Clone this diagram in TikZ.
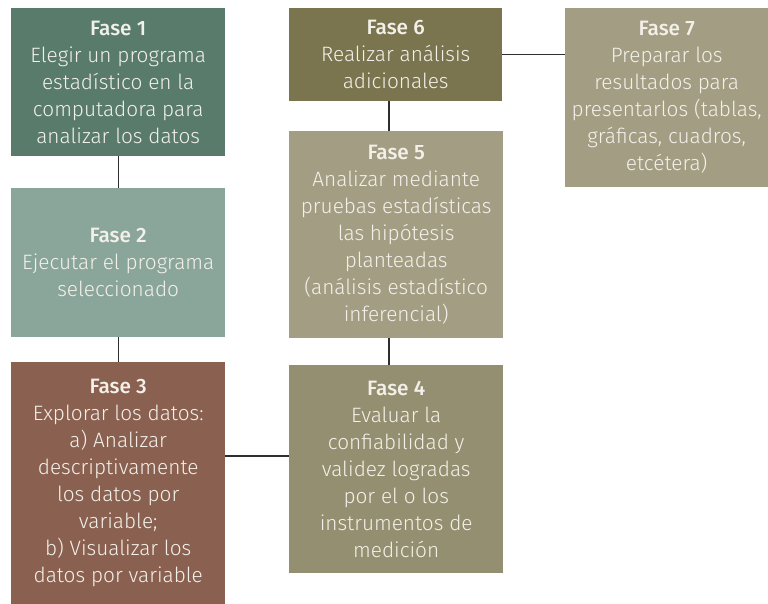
\documentclass[tikz,border=0pt]{standalone}
\usepackage{fontspec}
\setmainfont{Fira Sans Light}[BoldFont={Fira Sans Medium}]
\definecolor{cF1}{HTML}{587B6C}
\definecolor{cF2}{HTML}{8AA69A}
\definecolor{cF3}{HTML}{8A6150}
\definecolor{cF4}{HTML}{958F71}
\definecolor{cF5}{HTML}{A39E83}
\definecolor{cF6}{HTML}{7A754F}
\definecolor{cF7}{HTML}{A39E83}
\definecolor{txt}{HTML}{F3F0EA}
\definecolor{lnc}{HTML}{2E2E2E}
\tikzset{
  fase/.style={rectangle, draw=none, inner sep=0pt, anchor=north west, align=center,
    text=txt, font=\fontsize{20.8}{27}\selectfont},
  conn/.style={draw=lnc, line width=1.3pt}
}
\newcommand{\fttl}[1]{{\bfseries #1}}
\begin{document}
\begin{tikzpicture}[x=1pt,y=-1pt]
\useasboundingbox[fill=white] (0,0) rectangle (768,604);
\node[fase, fill=cF1, minimum width=214pt, minimum height=148pt] (f1) at (11,8)
  {\fttl{Fase 1}\\Elegir un programa\\estadístico en la\\computadora para\\analizar los datos};
\node[fase, fill=cF2, minimum width=214pt, minimum height=149pt] (f2) at (11,188)
  {\fttl{Fase 2}\\Ejecutar el programa\\seleccionado};
\node[fase, fill=cF3, minimum width=214pt, minimum height=242pt] (f3) at (11,362)
  {\fttl{Fase 3}\\Explorar los datos:\\a) Analizar\\descriptivamente\\los datos por\\variable;\\b) Visualizar los\\datos por variable};
\node[fase, fill=cF4, minimum width=214pt, minimum height=208pt] (f4) at (289,365)
  {\fttl{Fase 4}\\Evaluar la\\confiabilidad y\\validez logradas\\por el o los\\instrumentos de\\medición};
\node[fase, fill=cF5, minimum width=214pt, minimum height=207pt] (f5) at (289,131)
  {\fttl{Fase 5}\\Analizar mediante\\pruebas estadísticas\\las hipótesis\\planteadas\\(análisis estadístico\\inferencial)};
\node[fase, fill=cF6, minimum width=213pt, minimum height=93pt] (f6) at (289,8)
  {\fttl{Fase 6}\\Realizar análisis\\adicionales};
\node[fase, fill=cF7, minimum width=203pt, minimum height=179pt] (f7) at (565,8)
  {\fttl{Fase 7}\\Preparar los\\resultados para\\presentarlos (tablas,\\gráficas, cuadros,\\etcétera)};
\coordinate (c34) at (0,456);
\coordinate (cx) at (389,0);
\draw[conn] (f1.south) -- (f2.north);
\draw[conn] (f2.south) -- (f3.north);
\draw[conn] (f3.east |- c34) -- (f4.west |- c34);
\draw[conn] (cx |- f4.north) -- (cx |- f5.south);
\draw[conn] (cx |- f5.north) -- (cx |- f6.south);
\draw[conn] (f6.east) -- (f7.west |- f6.east);
\end{tikzpicture}
\end{document}
